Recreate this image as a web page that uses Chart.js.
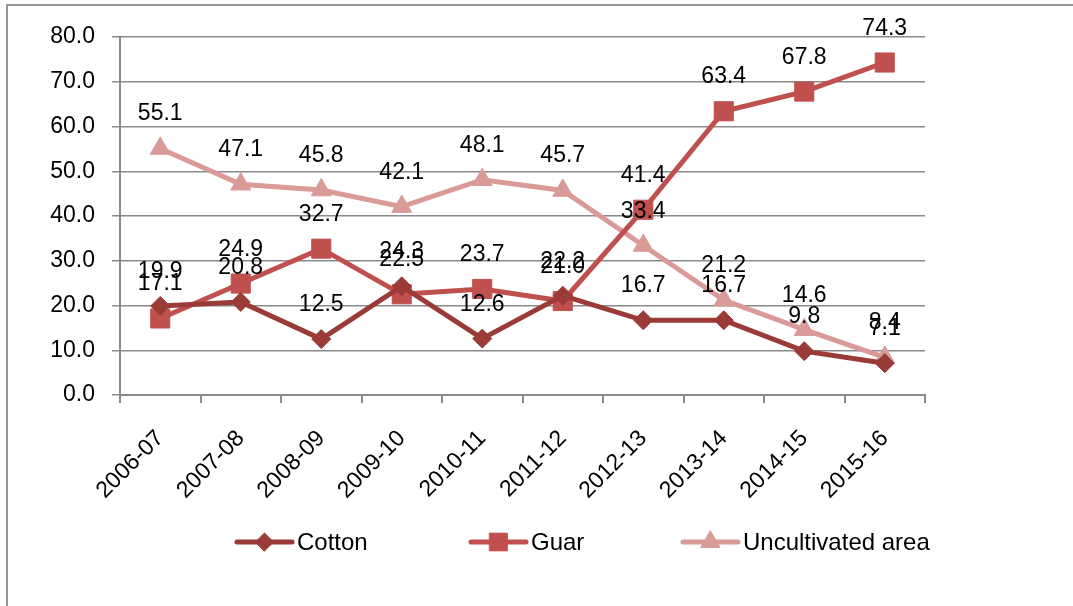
<!DOCTYPE html>
<html lang="en">
<head>
    <meta charset="UTF-8">
    <title>Cotton, Guar and Uncultivated area</title>
    <script src="https://cdn.jsdelivr.net/npm/chart.js"></script>
    <style>
        body { margin: 0; background: #fff; }
        canvas { display: block; }
    </style>
</head>
<body>
    <canvas id="areaChart" width="1073" height="606"></canvas>

    <script>
// crop years and shares per series
const years = ["2006-07", "2007-08", "2008-09", "2009-10", "2010-11", "2011-12", "2012-13", "2013-14", "2014-15", "2015-16"];
const cotton = [19.9, 20.8, 12.5, 24.3, 12.6, 22.2, 16.7, 16.7, 9.8, 7.1];
const guar = [17.1, 24.9, 32.7, 22.5, 23.7, 21.0, 41.4, 63.4, 67.8, 74.3];
const uncultivated = [55.1, 47.1, 45.8, 42.1, 48.1, 45.7, 33.4, 21.2, 14.6, 8.4];
const yTicks = [0, 10, 20, 30, 40, 50, 60, 70, 80];

const FONT = "'Liberation Sans', Arial, sans-serif";
const GRID = "#8a8a8a";

// grey frame on top and left edge
const framePlugin = {
    id: "frame",
    beforeDraw(chart) {
        const ctx = chart.ctx;
        ctx.save();
        ctx.fillStyle = "#fff";
        ctx.fillRect(0, 0, chart.width, chart.height);
        ctx.strokeStyle = "#969696";
        ctx.lineWidth = 2;
        ctx.beginPath();
        ctx.moveTo(7, chart.height);
        ctx.lineTo(7, 5);
        ctx.lineTo(chart.width, 5);
        ctx.stroke();
        ctx.restore();
    }
};

// value labels above each point
const valueLabels = {
    id: "valueLabels",
    afterDatasetsDraw(chart) {
        const ctx = chart.ctx;
        ctx.save();
        ctx.font = "23px " + FONT;
        ctx.fillStyle = "#000";
        ctx.textAlign = "center";
        ctx.textBaseline = "alphabetic";
        chart.data.datasets.forEach((ds, i) => {
            chart.getDatasetMeta(i).data.forEach((pt, j) => {
                ctx.fillText(ds.data[j].toFixed(1), pt.x, pt.y - 28);
            });
        });
        ctx.restore();
    }
};

// legend: line with marker, then the name
const lineLegend = {
    id: "lineLegend",
    afterDraw(chart) {
        const ctx = chart.ctx;
        const starts = [237, 471, 683];
        const y = 542;
        ctx.save();
        ctx.font = "24px " + FONT;
        ctx.textBaseline = "middle";
        chart.data.datasets.forEach((ds, i) => {
            const x = starts[i];
            ctx.strokeStyle = ds.borderColor;
            ctx.lineWidth = 5;
            ctx.lineCap = "round";
            ctx.beginPath();
            ctx.moveTo(x, y);
            ctx.lineTo(x + 55, y);
            ctx.stroke();
            ctx.fillStyle = ds.borderColor;
            ctx.strokeStyle = ds.borderColor;
            ctx.lineWidth = 1;
            Chart.helpers.drawPoint(ctx, {
                pointStyle: ds.pointStyle,
                radius: ds.legendRadius,
                borderWidth: 1
            }, x + 27.5, y);
            ctx.fillStyle = "#000";
            ctx.fillText(ds.label, x + 60, y + 1);
        });
        ctx.restore();
    }
};

function series(label, data, color, style, radius, legendRadius) {
    return {
        label: label,
        data: data,
        borderColor: color,
        backgroundColor: color,
        pointBackgroundColor: color,
        pointBorderColor: color,
        pointBorderWidth: 1,
        borderWidth: 5,
        pointStyle: style,
        pointRadius: radius,
        legendRadius: legendRadius,
        tension: 0,
        clip: false
    };
}

const ctx = document.getElementById("areaChart").getContext("2d");
new Chart(ctx, {
    type: "line",
    data: {
        labels: years,
        datasets: [
            series("Cotton", cotton, "#9a3b38", "rectRot", 9.5, 9),
            series("Guar", guar, "#c0504d", "rect", 13.5, 12.5),
            series("Uncultivated area", uncultivated, "#d99a98", "triangle", 11.5, 11)
        ]
    },
    options: {
        responsive: false,
        animation: false,
        layout: { padding: { top: 37, right: 148, left: 0, bottom: 0 } },
        plugins: {
            legend: { display: false },
            tooltip: { enabled: false }
        },
        scales: {
            x: {
                offset: true,
                grid: {
                    offset: true,
                    drawOnChartArea: false,
                    drawTicks: true,
                    tickLength: 8,
                    color: GRID,
                    lineWidth: 2
                },
                border: { color: GRID, width: 2 },
                ticks: {
                    autoSkip: false,
                    minRotation: 45,
                    maxRotation: 45,
                    padding: 22,
                    color: "#000",
                    font: { family: FONT, size: 23 }
                },
                afterFit(scale) { scale.height = 211; }
            },
            y: {
                min: 0,
                max: 80,
                afterBuildTicks(scale) {
                    scale.ticks = yTicks.map(v => ({ value: v }));
                },
                grid: {
                    color: GRID,
                    lineWidth: 1.5,
                    tickLength: 8
                },
                border: { color: GRID, width: 2 },
                ticks: {
                    padding: 17,
                    color: "#000",
                    font: { family: FONT, size: 23 },
                    callback: v => v.toFixed(1)
                },
                afterFit(scale) { scale.width = 120; }
            }
        }
    },
    plugins: [framePlugin, valueLabels, lineLegend]
});
    </script>
</body>
</html>
